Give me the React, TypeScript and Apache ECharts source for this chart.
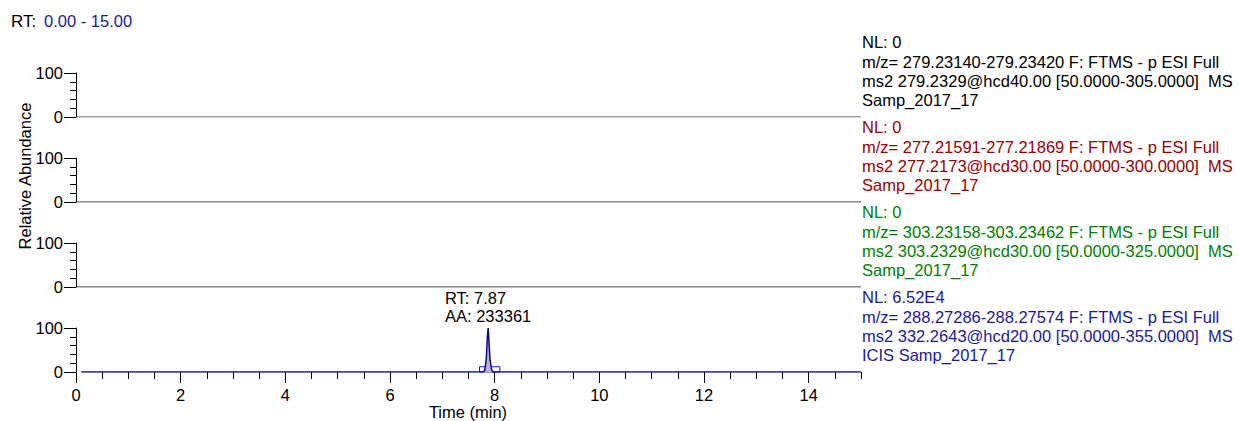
import React, { useEffect, useRef } from "react";
import * as echarts from "echarts";

const FONT = "Liberation Sans, Arial, sans-serif";
const FS = 16.5;

// Flat traces (panels 1-3)
const flatTimes = [0, 15];
const flatValues = [0, 0];

// Bottom trace (panel 4)
const traceTimes = [0.1, 7.78, 7.81, 7.84, 7.86, 7.875, 7.89, 7.91, 7.94, 7.97, 15.0];
const traceValues = [0, 0, 3, 30, 80, 100, 72, 30, 6, 0, 0];

// Integration box
const boxTimes = [7.71, 8.1];
const boxLevels = [0, 12];

const xTicks = [0, 2, 4, 6, 8, 10, 12, 14];

const panelTexts = [
  { color: "#000000", lines: ["NL: 0", "m/z= 279.23140-279.23420 F: FTMS - p ESI Full", "ms2 279.2329@hcd40.00 [50.0000-305.0000]  MS", "Samp_2017_17"] },
  { color: "#990000", lines: ["NL: 0", "m/z= 277.21591-277.21869 F: FTMS - p ESI Full", "ms2 277.2173@hcd30.00 [50.0000-300.0000]  MS", "Samp_2017_17"] },
  { color: "#008000", lines: ["NL: 0", "m/z= 303.23158-303.23462 F: FTMS - p ESI Full", "ms2 303.2329@hcd30.00 [50.0000-325.0000]  MS", "Samp_2017_17"] },
  { color: "#1a1a9a", lines: ["NL: 6.52E4", "m/z= 288.27286-288.27574 F: FTMS - p ESI Full", "ms2 332.2643@hcd20.00 [50.0000-355.0000]  MS", "ICIS Samp_2017_17"] },
];

const peakLabel = ["RT: 7.87", "AA: 233361"];

export default function App() {
  const ref = useRef<HTMLDivElement>(null);
  useEffect(() => {
    if (!ref.current) return;
    const chart = echarts.init(ref.current, null, { renderer: "svg" });
    const panelTops = [73, 158, 243, 328];
    const panelH = 44;
    const L = 76;
    const R = 1239 - 861;

    const grids = panelTops.map((t) => ({ left: L, right: R, top: t, height: panelH }));
    const xAxes: any[] = panelTops.map((_, i) => ({
      type: "value",
      gridIndex: i,
      min: 0,
      max: 15,
      show: false,
    }));
    // minor ticks axis for bottom
    xAxes.push({
      type: "value",
      gridIndex: 3,
      min: 0,
      max: 15,
      interval: 0.5,
      position: "bottom",
      axisLine: { show: false },
      axisTick: { show: true, length: 7, lineStyle: { color: "#000", width: 1 } },
      axisLabel: { show: false },
      splitLine: { show: false },
    });
    // major ticks axis
    xAxes.push({
      type: "value",
      gridIndex: 3,
      min: 0,
      max: 15,
      interval: 2,
      position: "bottom",
      axisLine: { show: false },
      axisTick: { show: true, length: 11, lineStyle: { color: "#000", width: 1 } },
      axisLabel: {
        show: true,
        margin: 14,
        color: "#000",
        fontSize: FS,
        fontFamily: FONT,
        showMaxLabel: false,
        formatter: (v: number) => (xTicks.includes(v) ? String(v) : ""),
      },
      splitLine: { show: false },
    });

    const yAxes = panelTops.map((_, i) => ({
      type: "value",
      gridIndex: i,
      min: 0,
      max: 100,
      interval: 100,
      axisLine: { show: true, lineStyle: { color: "#000", width: 1 } },
      axisTick: { show: true, length: 12, lineStyle: { color: "#000" } },
      minorTick: { show: true, splitNumber: 5, length: 6, lineStyle: { color: "#000" } },
      axisLabel: { color: "#000", fontSize: FS, fontFamily: FONT, margin: 13 },
      splitLine: { show: false },
    }));

    const flatColors = ["#444444", "#111111", "#111111"];
    const series: any[] = [0, 1, 2].map((i) => ({
      type: "line",
      xAxisIndex: i,
      yAxisIndex: i,
      data: flatTimes.map((t, k) => [t, flatValues[k]]),
      symbol: "none",
      lineStyle: { color: flatColors[i], width: 1 },
      silent: true,
    }));
    series.push({
      type: "line",
      xAxisIndex: 3,
      yAxisIndex: 3,
      data: traceTimes.map((t, k) => [t, traceValues[k]]),
      symbol: "none",
      lineStyle: { color: "#0a0a8c", width: 1.5 },
      areaStyle: { color: "#b8b8b8", opacity: 1 },
      silent: true,
      markArea: {
        silent: true,
        itemStyle: { color: "rgba(0,0,0,0)", borderColor: "#1010ff", borderWidth: 1 },
        data: [[{ xAxis: boxTimes[0], yAxis: boxLevels[0] }, { xAxis: boxTimes[1], yAxis: boxLevels[1] }]],
      },
    });

    const graphics: any[] = [];
    graphics.push({
      type: "text",
      x: 11,
      y: 21,
      style: { text: "RT:", fill: "#000", font: `${FS + 0.5}px ${FONT}`, verticalAlign: "middle" },
    });
    graphics.push({
      type: "text",
      x: 44,
      y: 21,
      style: { text: "0.00 - 15.00", fill: "#1a1aa0", font: `${FS}px ${FONT}`, verticalAlign: "middle" },
    });
    graphics.push({
      type: "text",
      x: 25,
      y: 176,
      rotation: Math.PI / 2,
      style: { text: "Relative Abundance", fill: "#000", font: `${FS}px ${FONT}`, align: "center", verticalAlign: "middle" },
    });
    graphics.push({
      type: "text",
      x: 468,
      y: 412,
      style: { text: "Time (min)", fill: "#000", font: `${FS}px ${FONT}`, align: "center", verticalAlign: "middle" },
    });
    peakLabel.forEach((s, k) => {
      graphics.push({
        type: "text",
        x: 445,
        y: 298 + k * 18,
        style: { text: s, fill: "#000", font: `${FS}px ${FONT}`, align: "left", verticalAlign: "middle" },
      });
    });
    const textTops = [42, 127, 212, 297];
    panelTexts.forEach((p, i) => {
      p.lines.forEach((s, k) => {
        graphics.push({
          type: "text",
          x: 862,
          y: textTops[i] + (k === 0 ? 0 : 19.5 + (k - 1) * 19),
          style: { text: s, fill: p.color, font: `${FS}px ${FONT}`, align: "left", verticalAlign: "middle" },
        });
      });
    });

    chart.setOption({
      animation: false,
      backgroundColor: "#ffffff",
      grid: grids,
      xAxis: xAxes,
      yAxis: yAxes,
      series,
      graphic: graphics,
    });
    return () => chart.dispose();
  }, []);
  return <div ref={ref} style={{ position: "fixed", left: 0, top: 0, width: 1239, height: 421 }} />;
}
